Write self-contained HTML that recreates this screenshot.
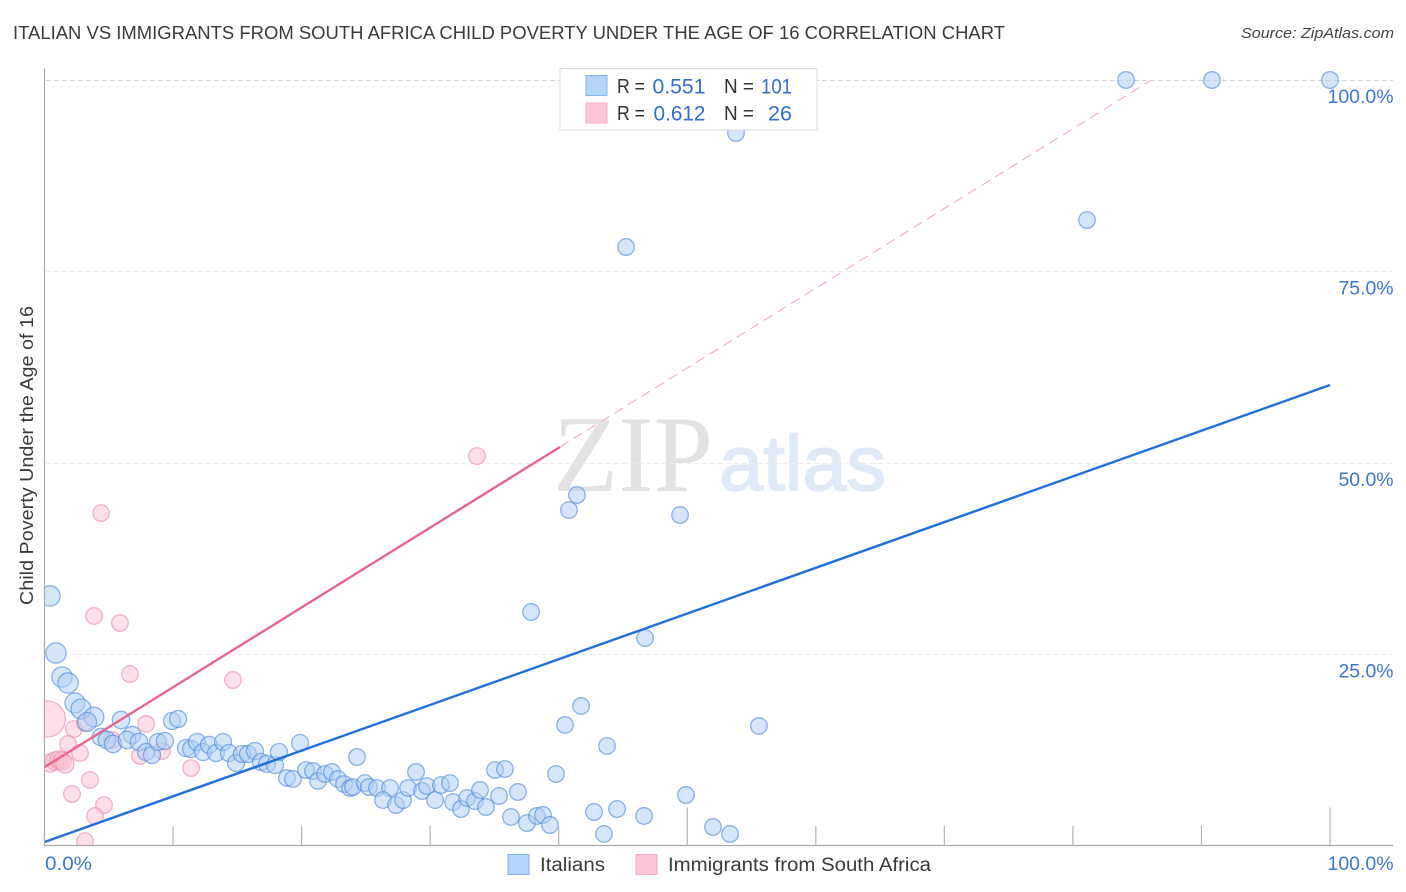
<!DOCTYPE html>
<html lang="en">
<head>
<meta charset="utf-8">
<title>Italian vs Immigrants from South Africa Child Poverty Under the Age of 16 Correlation Chart</title>
<style>
html,body{margin:0;padding:0;background:#fff;width:1406px;height:892px;overflow:hidden}
svg{display:block;font-family:"Liberation Sans",sans-serif}
</style>
</head>
<body>
<svg id="chart" width="1406" height="892" viewBox="0 0 1406 892">
  <defs>
    <clipPath id="plot-clip"><rect x="44.5" y="0" width="1362" height="846"/></clipPath>
  </defs>
  <rect x="0" y="0" width="1406" height="892" fill="#fff"/>
  <text x="13" y="39" font-size="18.5" fill="#3a3a3a" textLength="992" lengthAdjust="spacingAndGlyphs">ITALIAN VS IMMIGRANTS FROM SOUTH AFRICA CHILD POVERTY UNDER THE AGE OF 16 CORRELATION CHART</text>
  <text x="1394" y="38" font-size="15" font-style="italic" fill="#444" text-anchor="end" textLength="153" lengthAdjust="spacingAndGlyphs">Source: ZipAtlas.com</text>
  <g>
    <text x="553" y="491" font-family="'Liberation Serif',serif" font-size="109" fill="#e2e2e2" textLength="160" lengthAdjust="spacingAndGlyphs">ZIP</text>
    <text x="719" y="490" font-size="78" fill="#dfe9f8" stroke="#dfe9f8" stroke-width="1.6" textLength="167" lengthAdjust="spacingAndGlyphs">atlas</text>
  </g>
  <g id="grid"></g>
  <g id="marks" clip-path="url(#plot-clip)"></g>
  <g id="fit-lines" clip-path="url(#plot-clip)"></g>
  <g id="axes"></g>
  <g id="tick-labels"></g>
  <text transform="translate(33,455.5) rotate(-90)" font-size="18" fill="#3a3a3a" text-anchor="middle" textLength="299" lengthAdjust="spacingAndGlyphs">Child Poverty Under the Age of 16</text>

  <g>
    <rect x="560" y="68.5" width="257" height="61.5" fill="#fff" stroke="#dcdce0" stroke-width="1"/>
    <rect x="586" y="75.5" width="21" height="20" fill="#b5d2f8" stroke="#86b4ee"/>
    <rect x="586" y="103" width="21" height="20" fill="#fdc5d6" stroke="#f5abc3"/>
    <g font-size="20" fill="#333">
      <text x="617" y="93" textLength="28" lengthAdjust="spacingAndGlyphs">R =</text>
      <text x="724" y="93" textLength="30" lengthAdjust="spacingAndGlyphs">N =</text>
      <text x="617" y="120" textLength="28" lengthAdjust="spacingAndGlyphs">R =</text>
      <text x="724" y="120" textLength="30" lengthAdjust="spacingAndGlyphs">N =</text>
    </g>
    <g font-size="21" fill="#2f6fd0">
      <text x="652.5" y="93.5" textLength="53" lengthAdjust="spacingAndGlyphs">0.551</text>
      <text x="761" y="93.5" textLength="31" lengthAdjust="spacingAndGlyphs">101</text>
      <text x="653.5" y="120.5" textLength="52" lengthAdjust="spacingAndGlyphs">0.612</text>
      <text x="768" y="120.5" textLength="24" lengthAdjust="spacingAndGlyphs">26</text>
    </g>
  </g>

  <g>
    <rect x="508" y="854.5" width="21" height="20" fill="#b5d2f8" stroke="#7fb0ec"/>
    <text x="540" y="871" font-size="19" fill="#3a3a3a" textLength="65" lengthAdjust="spacingAndGlyphs">Italians</text>
    <rect x="636" y="854.5" width="21" height="20" fill="#fdc5d6" stroke="#f5a9c2"/>
    <text x="668" y="871" font-size="19" fill="#3a3a3a" textLength="263" lengthAdjust="spacingAndGlyphs">Immigrants from South Africa</text>
  </g>
</svg>
<script>
var xTickValues = [0,10,20,30,40,50,60,70,80,90,100];
var yGridValues = [25,50,75,100];
var yTickLabels = ["25.0%","50.0%","75.0%","100.0%"];
var xEndLabels = ["0.0%","100.0%"];

var italianX = [0.43,0.89,1.36,1.83,2.37,2.84,3.85,3.31,5.95,4.4,4.86,5.33,6.81,6.42,7.35,7.9,8.36,8.83,9.37,9.92,10.39,11.01,11.4,11.86,12.33,12.8,13.34,13.89,14.35,14.9,15.36,15.83,16.37,16.84,17.31,17.93,18.24,19.88,18.86,19.33,20.34,20.89,21.28,21.82,22.36,22.83,23.3,23.77,24.31,24.0,24.93,25.24,25.87,26.88,26.33,27.34,27.89,28.28,28.9,29.37,29.75,30.38,30.84,31.54,31.78,32.4,32.87,33.49,33.88,34.34,35.36,35.05,35.82,36.83,36.29,37.53,38.31,38.78,39.32,39.79,40.49,41.74,43.76,42.75,43.52,44.54,46.64,49.9,52.0,53.33,55.58,46.72,37.85,40.8,41.42,49.44,45.24,53.79,81.1,84.13,90.82,100];
var italianY = [32.64,25.2,22.06,21.28,18.67,17.89,16.84,16.19,16.45,14.23,13.84,13.32,14.49,13.84,13.58,12.27,11.88,13.58,13.71,16.32,16.58,12.79,12.66,13.58,12.27,13.19,12.14,13.58,12.14,10.84,12.01,12.01,12.4,10.97,10.71,10.57,12.27,13.45,8.88,8.75,9.92,9.79,8.49,9.4,9.66,8.75,8.09,7.57,11.62,7.7,8.22,7.7,7.57,7.57,6.0,5.35,6.0,7.57,9.66,7.18,7.83,6.0,7.96,8.22,5.74,4.83,6.27,5.87,7.31,5.09,6.53,9.92,10.05,7.05,3.79,3.0,3.92,4.05,2.74,9.4,15.8,18.28,13.06,4.44,1.57,4.83,3.92,6.66,2.48,1.57,15.67,27.15,30.55,43.86,45.82,43.21,78.2,93.08,81.72,100,100,100];
var italianSize = [1.5,1.5,1.5,1.5,1.45,1.45,1.4,1.3,1.1,1.1,1.1,1.1,1.1,1.1,1.1,1.05,1.05,1.05,1.05,1.05,1.05,1.05,1.05,1.05,1.05,1.05,1.05,1.05,1.05,1.05,1.05,1.05,1.05,1.05,1.05,1.05,1.05,1.05];

var immigrantX = [3.85,5.87,6.65,14.66,0.23,7.9,2.29,5.25,3.15,1.83,2.76,0.43,0.82,1.13,1.36,1.59,7.43,9.14,11.4,3.54,2.14,4.63,3.93,3.15,4.4,33.64];
var immigrantY = [30.03,29.11,22.45,21.67,16.58,15.93,15.27,13.84,16.06,13.32,12.14,10.84,11.1,11.23,11.1,10.71,11.75,12.4,10.18,8.62,6.79,5.35,3.92,0.65,43.47,50.91];
var immigrantSize = [1,1,1,1,4.7,1,1,1,1,1,1,1.2,1.2,1.2,1.2,1.2];

var italianFit = [[0,0.52],[100,60.18]];
var immigrantFitSolid = [[0,10.3],[40.1,52.09]];
var immigrantFitDashed = [[40.1,52.09],[86.1,100]];

var SVGNS = "http://www.w3.org/2000/svg";
function xScale(v){ return 44.5 + v * 12.855; }
function yScale(v){ return 846 - v * 7.66; }
function make(tag, attrs, parent){
  var el = document.createElementNS(SVGNS, tag);
  for (var k in attrs) el.setAttribute(k, attrs[k]);
  parent.appendChild(el);
  return el;
}

var gridG = document.getElementById("grid");
yGridValues.forEach(function(v){
  var gy = Math.floor(yScale(v)) + 0.5;
  var line = make("line", {x1:46, x2:1393, y1:gy, y2:gy, stroke:(v===100?"#d2d2d6":"#ececee"), "stroke-width":1, "stroke-dasharray":"5 3"}, gridG);
  
  
});

var marksG = document.getElementById("marks");
function drawSeries(xs, ys, sizes, baseR, fill, stroke, label){
  xs.forEach(function(x, i){
    var s = sizes[i] === undefined ? 1 : sizes[i];
    var c = make("circle", {cx:xScale(x), cy:yScale(ys[i]), r:baseR*Math.sqrt(s), fill:fill, "fill-opacity":0.5, stroke:stroke, "stroke-opacity":0.62, "stroke-width":1.3}, marksG);
    
    
  });
}
drawSeries(immigrantX, immigrantY, immigrantSize, 8.3, "#fdbdd0", "#ec8aa8", "immigrant-point");
drawSeries(italianX, italianY, italianSize, 8.3, "#aecdf6", "#4a88e0", "italian-point");

var fitG = document.getElementById("fit-lines");
function drawFit(pts, stroke, width, dash, label){
  var attrs = {x1:xScale(pts[0][0]), y1:yScale(pts[0][1]), x2:xScale(pts[1][0]), y2:yScale(pts[1][1]), stroke:stroke, "stroke-width":width};
  if (dash) attrs["stroke-dasharray"] = dash;
  var l = make("line", attrs, fitG);
  
  
}
drawFit(immigrantFitDashed, "#f0a6bf", 1, "10 6", "immigrants-trend-extension");
drawFit(immigrantFitSolid, "#e9648f", 2.4, null, "immigrants-trend-line");
drawFit(italianFit, "#1f6fdc", 2.4, null, "italians-trend-line");

var axesG = document.getElementById("axes");
var yAxis = make("line", {x1:44.5, x2:44.5, y1:68, y2:846, stroke:"#aaa", "stroke-width":1.2}, axesG);


var xAxis = make("line", {x1:44, x2:1393, y1:845.5, y2:845.5, stroke:"#aaa", "stroke-width":1.2}, axesG);


xTickValues.forEach(function(v){
  if (v === 0) return;
  var top = (v === 50 || v === 100) ? 807.5 : 826;
  var t = make("line", {x1:xScale(v), x2:xScale(v), y1:top, y2:846, stroke:"#b4b4b4", "stroke-width":1.2}, axesG);
  
  
});

var labelsG = document.getElementById("tick-labels");
yGridValues.forEach(function(v, i){
  var t = make("text", {x:1393.5, y:yScale(v)+23, "font-size":19, fill:"#3a76d4", "text-anchor":"end", textLength:(v===100?66:55), lengthAdjust:"spacingAndGlyphs"}, labelsG);
  t.textContent = yTickLabels[i];
  
  
});
var x0 = make("text", {x:45, y:870, "font-size":19, fill:"#3a76d4", textLength:47, lengthAdjust:"spacingAndGlyphs"}, labelsG);
x0.textContent = xEndLabels[0];


var x1 = make("text", {x:1393.5, y:870, "font-size":19, fill:"#3a76d4", "text-anchor":"end", textLength:66, lengthAdjust:"spacingAndGlyphs"}, labelsG);
x1.textContent = xEndLabels[1];


</script>
</body>
</html>
